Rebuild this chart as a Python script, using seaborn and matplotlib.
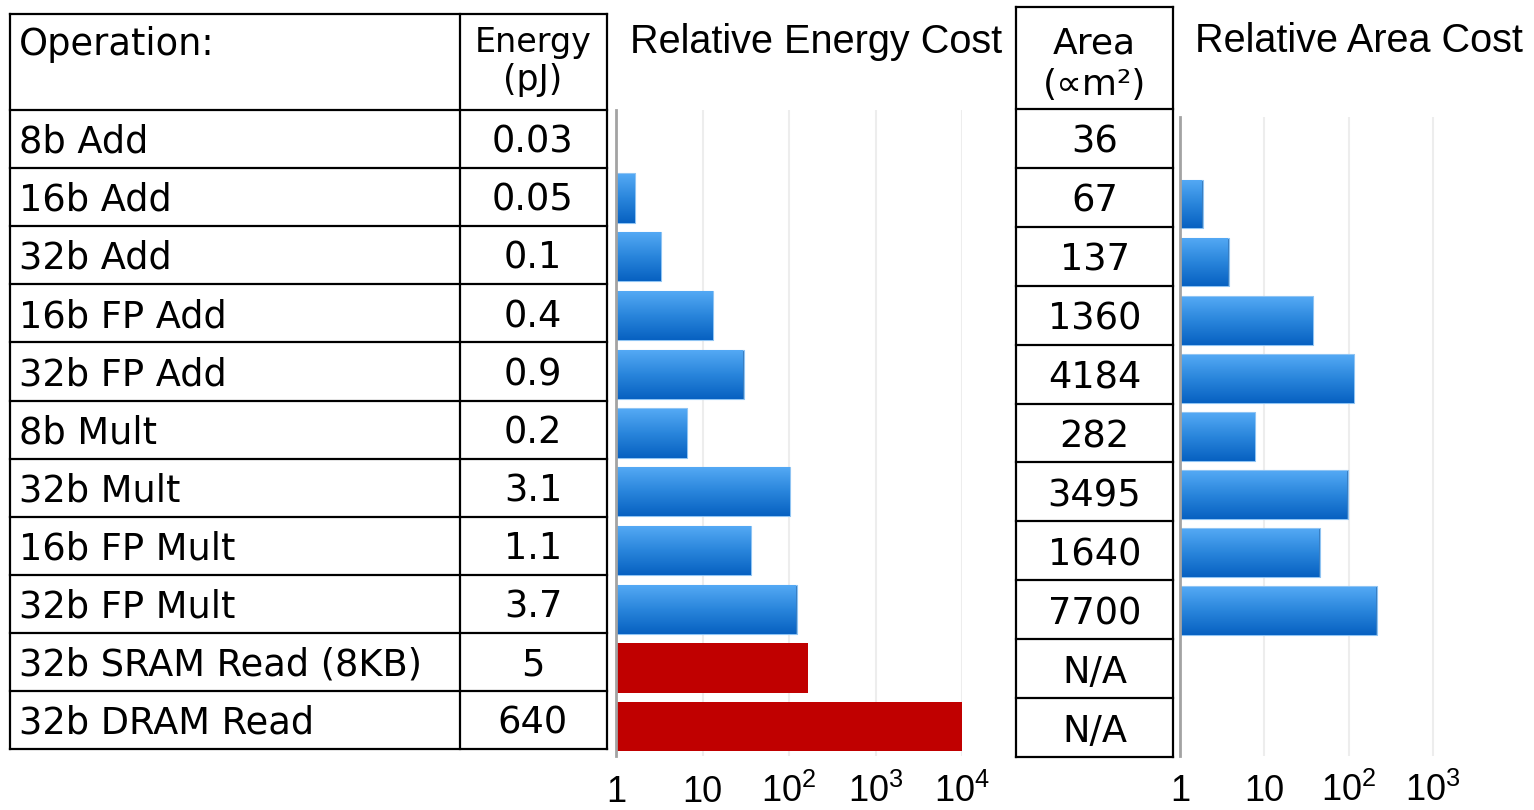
import numpy as np
import pandas as pd
import seaborn as sns
import matplotlib.pyplot as plt
from matplotlib.colors import LinearSegmentedColormap

### Data
operations = ['8b Add', '16b Add', '32b Add', '16b FP Add', '32b FP Add', '8b Mult',
              '32b Mult', '16b FP Mult', '32b FP Mult', '32b SRAM Read (8KB)', '32b DRAM Read']
energy_pj = [0.03, 0.05, 0.1, 0.4, 0.9, 0.2, 3.1, 1.1, 3.7, 5, 640]
energy_text = ['0.03', '0.05', '0.1', '0.4', '0.9', '0.2', '3.1', '1.1', '3.7', '5', '640']
area_um2 = [36, 67, 137, 1360, 4184, 282, 3495, 1640, 7700, np.nan, np.nan]
area_text = ['36', '67', '137', '1360', '4184', '282', '3495', '1640', '7700', 'N/A', 'N/A']
memory_ops = ['32b SRAM Read (8KB)', '32b DRAM Read']

energy_ticks = [1, 10, 100, 1000, 10000]
energy_tick_labels = ['1', '10', r'$\mathregular{10^2}$', r'$\mathregular{10^3}$', r'$\mathregular{10^4}$']
area_ticks = [1, 10, 100, 1000]
area_tick_labels = ['1', '10', r'$\mathregular{10^2}$', r'$\mathregular{10^3}$']

df = pd.DataFrame({'op': operations, 'energy': energy_pj, 'area': area_um2})
df['rel_energy'] = df['energy'] / df['energy'].iloc[0]
df['rel_area'] = df['area'] / df['area'].iloc[0]

sns.set_style('white')
plt.rcParams['font.family'] = ['Liberation Sans', 'DejaVu Sans']
plt.rcParams['mathtext.fontset'] = 'custom'
plt.rcParams['mathtext.rm'] = 'Liberation Sans'
plt.rcParams['text.color'] = 'black'

W, H = 1534, 810
fig = plt.figure(figsize=(W / 100, H / 100), dpi=100)


def px_rect(left, top, right, bottom):
    return [left / W, 1 - bottom / H, (right - left) / W, (bottom - top) / H]


### background axes in pixel coords for the two tables
ax_bg = fig.add_axes([0, 0, 1, 1])
ax_bg.set_xlim(0, W)
ax_bg.set_ylim(H, 0)
ax_bg.axis('off')

table_font = dict(fontfamily='DejaVu Sans', color='black')
n = len(operations)

# left table: operation / energy
lx = [10, 460, 607]
l_top, l_head, l_row = 14, 110, 58.1
l_bottom = l_head + n * l_row
for x in lx:
    ax_bg.plot([x, x], [l_top, l_bottom], color='black', lw=1.6, solid_capstyle='projecting')
for y in [l_top, l_head] + [l_head + (i + 1) * l_row for i in range(n)]:
    ax_bg.plot([lx[0], lx[-1]], [y, y], color='black', lw=1.6, solid_capstyle='projecting')

ax_bg.text(19, 55, 'Operation:', fontsize=26.5, ha='left', va='baseline', **table_font)
ax_bg.text(533, 52, 'Energy', fontsize=24, ha='center', va='baseline', **table_font)
ax_bg.text(533, 90, '(pJ)', fontsize=25, ha='center', va='baseline', **table_font)
for i, (op, et) in enumerate(zip(operations, energy_text)):
    yb = l_head + i * l_row + 0.735 * l_row
    ax_bg.text(19, yb, op, fontsize=26.5, ha='left', va='baseline', **table_font)
    ax_bg.text(533, yb, et, fontsize=26.5, ha='center', va='baseline', **table_font)

# area table
ax_x = [1016, 1173]
a_top, a_head, a_row = 7, 109, 58.9
a_bottom = a_head + n * a_row
for x in ax_x:
    ax_bg.plot([x, x], [a_top, a_bottom], color='black', lw=1.6, solid_capstyle='projecting')
for y in [a_top, a_head] + [a_head + (i + 1) * a_row for i in range(n)]:
    ax_bg.plot([ax_x[0], ax_x[-1]], [y, y], color='black', lw=1.6, solid_capstyle='projecting')

ax_bg.text(1094.5, 54, 'Area', fontsize=26, ha='center', va='baseline', **table_font)
ax_bg.text(1094.5, 95, '(\u221dm\u00b2)', fontsize=26, ha='center', va='baseline', **table_font)
for i, at in enumerate(area_text):
    yb = a_head + i * a_row + 0.745 * a_row
    ax_bg.text(1094.5, yb, at, fontsize=26.5, ha='center', va='baseline', **table_font)

### titles
fig.text(630 / W, 1 - 53 / H, 'Relative Energy Cost', fontsize=28.5, ha='left', va='baseline', color='black')
fig.text(1195 / W, 1 - 52 / H, 'Relative Area Cost', fontsize=28.5, ha='left', va='baseline', color='black')

grad_cmap = LinearSegmentedColormap.from_list('bar_grad', ['#55aaf5', '#2a86dc', '#0862c2'])
grad = np.linspace(0, 1, 64).reshape(-1, 1)


def style_bars(ax, col, xmax, ticks, tick_labels, pad):
    sns.barplot(data=df, x=col, y='op', order=operations, orient='h', color='#1f7ad6',
                width=0.84, linewidth=0, ax=ax)
    ax.set_xscale('log')
    for patch in list(ax.patches):
        idx = int(round(patch.get_y() + patch.get_height() / 2))
        x1 = patch.get_x() + patch.get_width()
        if operations[idx] in memory_ops:
            patch.set_facecolor('#c00000')
            continue
        patch.set_edgecolor('#8fc4f3')
        patch.set_linewidth(0.8)
        if x1 > 1.001:
            y0 = patch.get_y()
            y1 = y0 + patch.get_height()
            im = ax.imshow(grad, cmap=grad_cmap, extent=(1, x1, y1, y0), aspect='auto',
                           origin='upper', interpolation='bilinear', zorder=patch.get_zorder() + 0.1)
            im.set_clip_path(patch)
    ax.set_xlim(1, xmax)
    ax.set_ylim(n - 0.5, -0.5)
    ax.minorticks_off()
    ax.set_xticks(ticks)
    ax.set_xticklabels(tick_labels)
    ax.set_axisbelow(True)
    ax.grid(axis='x', color='#ededed', lw=1.5)
    ax.grid(axis='y', visible=False)
    ax.set_yticks([])
    ax.set_xlabel('')
    ax.set_ylabel('')
    for s in ['top', 'right', 'bottom']:
        ax.spines[s].set_visible(False)
    ax.spines['left'].set_color('#a3a3a3')
    ax.spines['left'].set_linewidth(2)
    ax.spines['left'].set_zorder(5)
    ax.tick_params(axis='x', length=0, pad=pad, labelsize=26, labelcolor='black')
    for lab in ax.get_xticklabels():
        lab.set_verticalalignment('baseline')
    ax.patch.set_alpha(0)


ax_e = fig.add_axes(px_rect(616, 110, 962, 756))
style_bars(ax_e, 'rel_energy', 1e4, energy_ticks, energy_tick_labels, 33)

ax_a = fig.add_axes(px_rect(1180, 117, 1509, 755.5))
style_bars(ax_a, 'rel_area', 10 ** 3.9, area_ticks, area_tick_labels, 32.6)

fig.savefig('out.png', dpi=100)
